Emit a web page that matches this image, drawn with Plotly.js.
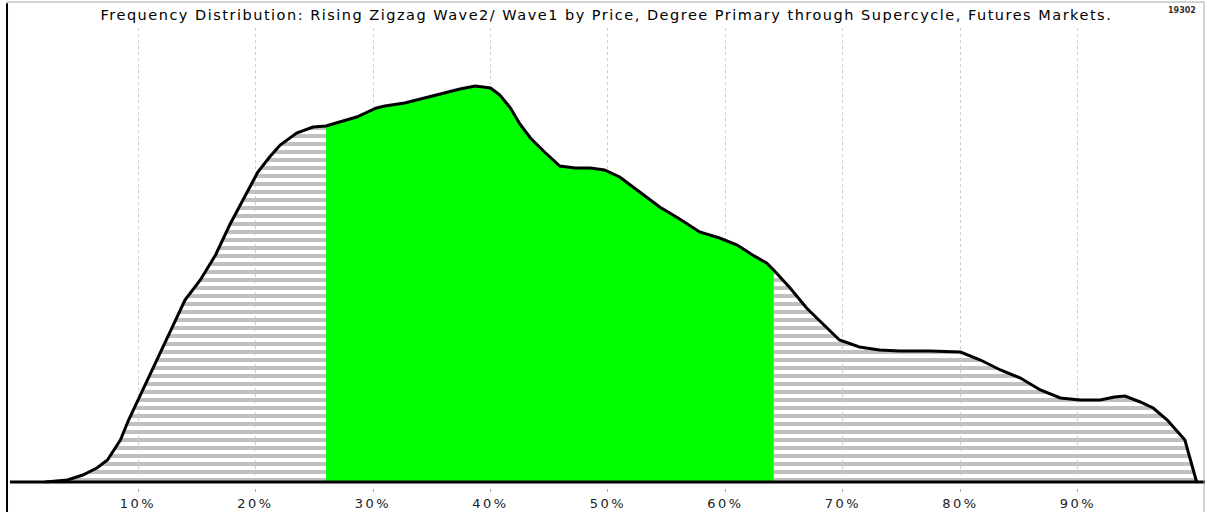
<!DOCTYPE html>
<html>
<head>
<meta charset="utf-8">
<script src="https://cdn.plot.ly/plotly-3.0.1.min.js"></script>
<style>
html,body{margin:0;padding:0;background:#fff;}
#chart{width:1208px;height:512px;}
#chart .gtitle{letter-spacing:1.5px;}
#chart .xtick text{letter-spacing:2.5px;}
</style>
</head>
<body>
<div id="chart"></div>
<script>
// Retracement (Wave2 / Wave1, %) and relative frequency (arbitrary units)
const xPct = [2.1, 2.7, 4.0, 5.3, 6.5, 7.4, 8.5, 9.2, 10.2, 11.6,
  12.7, 14.0, 15.3, 16.6, 17.8, 18.9, 20.2, 21.2, 22.1, 23.5,
  24.9, 26.0, 27.2, 28.6, 30.3, 31.0, 32.7, 34.0, 35.7, 37.4,
  38.7, 40.0, 40.8, 41.7, 42.5, 43.4, 44.6, 45.9, 47.2, 48.5,
  49.7, 51.0, 52.7, 54.4, 56.1, 57.8, 59.5, 61.0, 62.3, 63.5,
  64.1, 65.5, 66.9, 68.6, 69.7, 71.4, 73.1, 74.8, 77.4, 80.0,
  81.7, 83.4, 85.1, 86.8, 88.5, 90.2, 91.9, 93.1, 94.0, 95.3,
  96.4, 97.6, 99.1, 99.5, 100.1];
const freq = [0, 0.5, 2, 7, 14, 22, 42, 62, 87, 122,
  150, 182, 202, 227, 257, 282, 310, 325, 337, 349,
  355, 356, 360, 365, 374, 376, 379, 383, 388, 393,
  396, 394, 387, 374, 358, 344, 330, 316, 314, 314,
  312, 305, 290, 275, 263, 250, 244, 237, 227, 219,
  212, 194, 174, 154, 142, 135, 132, 131, 131, 130,
  122, 112, 104, 92, 84, 82, 82, 85, 86, 80,
  74, 62, 42, 25, 0];
// Highlighted (most common) band
const bandStart = 26.0;
const bandEnd = 64.1;
const tickVals = [10, 20, 30, 40, 50, 60, 70, 80, 90];
const tickText = ['10%', '20%', '30%', '40%', '50%', '60%', '70%', '80%', '90%'];
const titleText = 'Frequency Distribution: Rising Zigzag Wave2/ Wave1 by Price, Degree Primary through Supercycle, Futures Markets.';
const codeText = '19302';

const bandX = [], bandY = [];
xPct.forEach((x, i) => { if (x >= bandStart && x <= bandEnd) { bandX.push(x); bandY.push(freq[i]); } });

const traces = [
  {
    x: xPct, y: freq, type: 'scatter', mode: 'lines',
    line: {width: 0, color: 'rgba(0,0,0,0)'},
    fill: 'tozeroy', fillcolor: 'rgba(0,0,0,0)',
    fillpattern: {shape: '-', size: 8, solidity: 0.5, fgcolor: '#c0c0c0', bgcolor: 'rgba(255,255,255,0)'},
    hoverinfo: 'skip', showlegend: false
  },
  {
    x: bandX, y: bandY, type: 'scatter', mode: 'lines',
    line: {width: 0, color: 'rgba(0,0,0,0)'},
    fill: 'tozeroy', fillcolor: '#00ff00',
    hoverinfo: 'skip', showlegend: false
  },
  {
    x: xPct, y: freq, type: 'scatter', mode: 'lines',
    line: {width: 3, color: '#000000'},
    hoverinfo: 'skip', showlegend: false
  }
];

const layout = {
  width: 1208, height: 512,
  margin: {l: 10, r: 3, t: 28, b: 24, pad: 0},
  paper_bgcolor: '#ffffff', plot_bgcolor: '#ffffff',
  showlegend: false,
  title: {
    text: titleText, x: 0.502, xref: 'container', xanchor: 'center',
    y: 1 - 15 / 512, yref: 'container', yanchor: 'middle',
    font: {family: 'DejaVu Sans, sans-serif', size: 14.5, color: '#000'}
  },
  xaxis: {
    range: [-0.894, 100.81], fixedrange: true,
    tickvals: tickVals, ticktext: tickText,
    ticks: 'outside', ticklen: 3, tickcolor: '#aaaaaa', tickwidth: 1,
    showgrid: true, gridcolor: '#cccccc', griddash: '3px,3px', gridwidth: 1,
    zeroline: false, showline: false,
    tickfont: {family: 'DejaVu Sans, sans-serif', size: 13, color: '#222'}
  },
  yaxis: {
    range: [-6, 454], fixedrange: true,
    showticklabels: false, showgrid: false, zeroline: false, showline: false, ticks: ''
  },
  shapes: [
    {type: 'rect', xref: 'paper', yref: 'y', x0: 0, x1: 1, y0: -6, y1: -1.5,
     fillcolor: '#ffffff', line: {width: 0}, layer: 'above'},
    {type: 'line', xref: 'paper', yref: 'y', x0: 0, x1: 1, y0: 0, y1: 0,
     line: {color: '#000000', width: 3}, layer: 'above'},
    {type: 'line', xref: 'paper', yref: 'paper', x0: -0.0025, x1: -0.0025, y0: -0.06, y1: 1.054,
     line: {color: '#000000', width: 2}, layer: 'above'},
    {type: 'line', xref: 'paper', yref: 'paper', x0: -0.003, x1: 0.9992, y0: 1.0565, y1: 1.0565,
     line: {color: '#a8a8a8', width: 1}, layer: 'above'},
    {type: 'line', xref: 'paper', yref: 'paper', x0: 0.9992, x1: 0.9992, y0: -0.06, y1: 1.0565,
     line: {color: '#a8a8a8', width: 1}, layer: 'above'}
  ],
  annotations: [
    {text: '<b>' + codeText + '</b>', xref: 'paper', yref: 'paper', x: 0.981, y: 1.039,
     xanchor: 'center', yanchor: 'middle', showarrow: false,
     font: {family: 'DejaVu Sans, sans-serif', size: 8, color: '#333'}}
  ]
};

Plotly.newPlot('chart', traces, layout, {displayModeBar: false, staticPlot: true});
</script>
</body>
</html>
